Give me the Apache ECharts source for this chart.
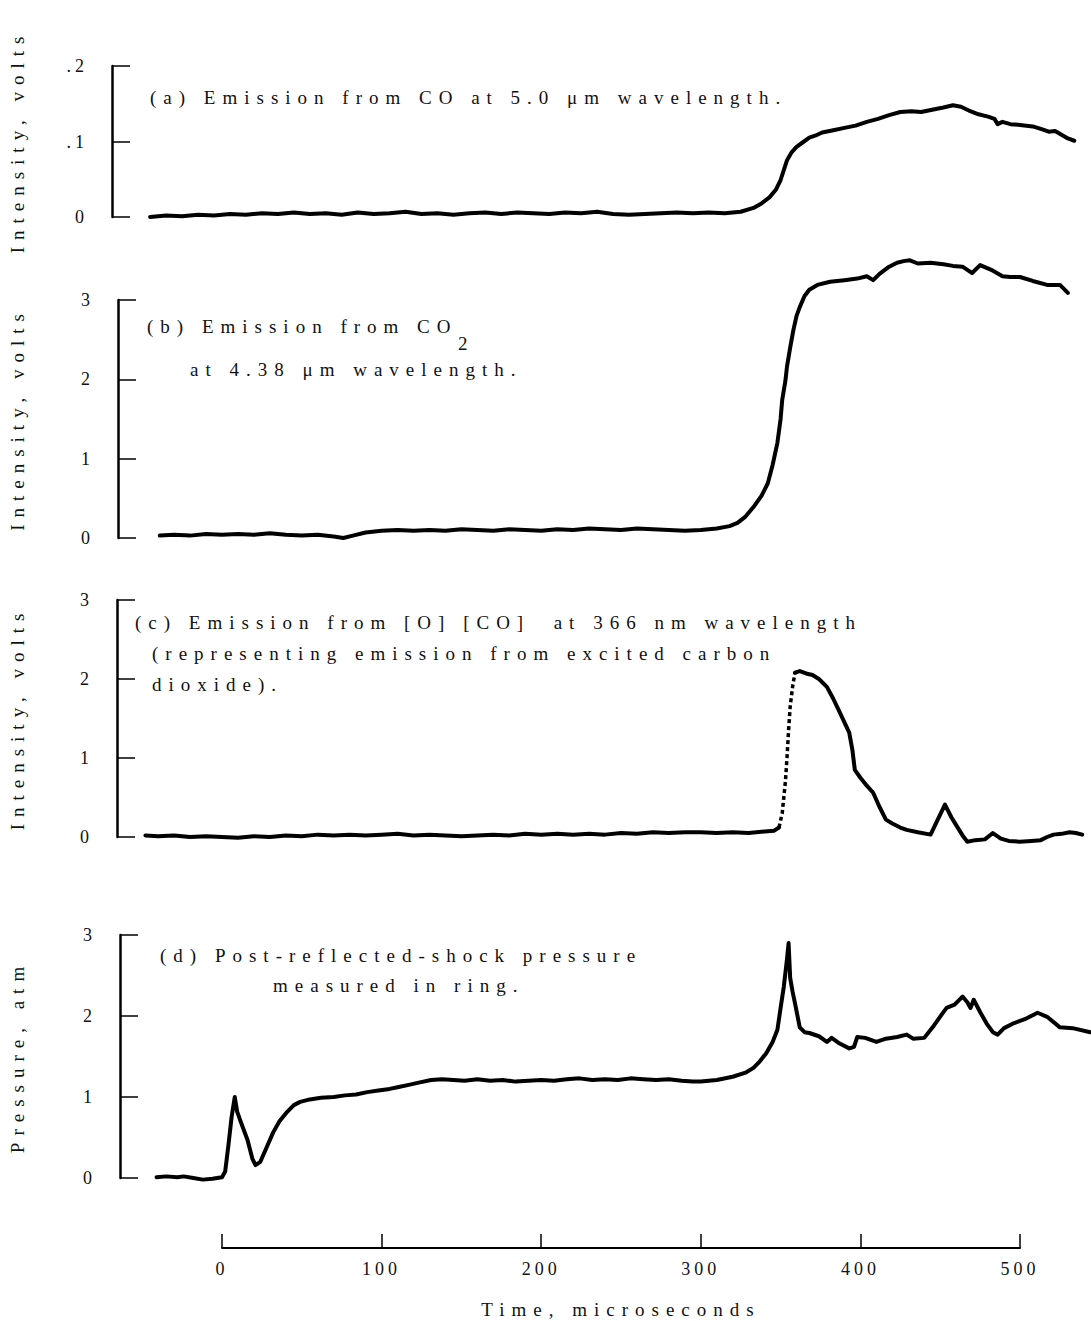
<!DOCTYPE html>
<html lang="en">
<head>
    <meta charset="UTF-8">
    <title>Shock tube emission and pressure traces</title>
    <script src="https://cdn.jsdelivr.net/npm/echarts@6/dist/echarts.min.js"></script>
    <style>
        html, body { margin: 0; padding: 0; background: #fff; }
        #main { width: 1091px; height: 1321px; }
    </style>
</head>
<body>
<div id="main"></div>
<script type="text/javascript">
    // (a) CO emission at 5.0 um -- time in microseconds, intensity in volts
    var timeA = [-45,-35,-25,-15,-5,5,15,25,35,45,55,65,75,85,95,105,115,125,135,145,155,165,175,185,195,205,215,225,235,245,255,265,275,285,295,305,315,325,
        333,338,343,347,350,352,354,357,360,364,368,372,376,
        383,390,397,404,411,418,425,432,438,445,452,458,463,468,474,480,484,486,489,494,500,508,514,518,522,526,530,534];
    var intensityA = [0.000,0.002,0.001,0.003,0.002,0.004,0.003,0.005,0.004,0.006,0.004,0.005,0.003,0.006,0.004,0.005,0.007,0.004,0.005,0.003,
        0.005,0.006,0.004,0.006,0.005,0.004,0.006,0.005,0.007,0.004,0.003,0.004,0.005,0.006,0.005,0.006,0.005,0.007,
        0.012,0.018,0.026,0.036,0.049,0.062,0.075,0.086,0.093,0.099,0.105,0.108,0.112,
        0.115,0.118,0.121,0.126,0.130,0.135,0.139,0.140,0.139,0.142,0.145,0.148,0.146,0.141,0.136,0.133,0.130,0.123,0.126,0.123,0.122,0.120,0.116,0.113,0.114,0.109,0.104,0.101];

    // (b) CO2 emission at 4.38 um
    var timeB = [-39,-30,-20,-10,0,10,20,30,40,50,60,70,76,82,90,
        100,110,120,130,140,150,160,170,180,190,200,210,220,230,240,250,260,270,280,290,300,310,
        318,323,328,333,338,342,345,348,350,351,353,354,356,358,360,362,365,368,373,
        381,390,398,404,408,412,418,423,427,431,436,444,452,458,464,467,470,475,482,489,494,500,508,517,525,530];
    var intensityB = [0.03,0.04,0.03,0.05,0.04,0.05,0.04,0.06,0.04,0.03,0.04,0.02,0.00,0.03,0.07,
        0.09,0.10,0.09,0.10,0.09,0.11,0.10,0.09,0.11,0.10,0.09,0.11,0.10,0.12,0.11,0.10,0.12,0.11,0.10,0.09,0.10,0.12,
        0.15,0.19,0.27,0.39,0.53,0.69,0.92,1.20,1.50,1.74,1.98,2.16,2.40,2.62,2.80,2.91,3.05,3.13,3.19,
        3.23,3.25,3.27,3.30,3.25,3.33,3.42,3.47,3.49,3.50,3.46,3.47,3.45,3.43,3.42,3.38,3.34,3.44,3.38,3.30,3.29,3.29,3.24,3.19,3.19,3.09];

    // (c) [O][CO] emission at 366 nm
    var timeC = [-48,-40,-30,-20,-10,0,10,20,30,40,50,60,70,80,90,100,110,120,130,140,150,160,170,180,190,200,210,220,230,240,250,260,270,280,290,300,310,320,330,340,
        346,349,351,353,354,355,356,357.5,359,
        362,366,370,374,379,383,387,390,393,395,396.5,
        400,404,408,412,416,420,425,429,436,444,
        448,453,457,460,464,467,472,478,483,488,
        493,500,507,513,517,521,526,531,535,539];
    var intensityC = [0.02,0.01,0.02,0.00,0.01,0.00,-0.01,0.01,0.00,0.02,0.01,0.03,0.02,0.03,0.02,0.03,0.04,0.02,0.03,0.02,
        0.01,0.02,0.03,0.02,0.04,0.03,0.04,0.03,0.04,0.03,0.05,0.04,0.06,0.05,0.06,0.06,0.05,0.06,0.05,0.07,
        0.08,0.12,0.30,0.70,1.00,1.35,1.65,1.90,2.08,
        2.10,2.07,2.05,2.00,1.90,1.75,1.58,1.45,1.32,1.10,0.85,
        0.75,0.65,0.56,0.38,0.22,0.17,0.12,0.09,0.06,0.03,
        0.20,0.41,0.25,0.15,0.02,-0.06,-0.04,-0.03,0.05,-0.02,
        -0.05,-0.06,-0.05,-0.04,0.00,0.03,0.04,0.06,0.05,0.03];

    // (d) post-reflected-shock pressure, atm
    var timeD = [-41,-35,-28,-24,-18,-12,-6,0,2,4,6,8,9.5,12,16,19,21,24,28,32,36,41,45,49,55,62,70,77,
        84,91,98,105,110,117,124,131,138,145,152,160,168,176,184,192,200,208,216,224,
        232,240,248,256,264,272,280,288,295,300,310,320,328,333,337,341,345,348,350,352,
        354,355,356,357.5,359,362,365,368,374,379,382,387,393,396,398,403,410,416,423,429,
        433,440,446,451,454,459,464,467,469,471,475,479,483,486,490,496,503,511,517,525,533,544];
    var pressureD = [0.01,0.02,0.01,0.02,0.00,-0.02,-0.01,0.01,0.08,0.40,0.75,1.00,0.82,0.68,0.47,0.24,0.16,0.20,0.38,0.56,0.70,0.82,0.90,0.94,0.97,0.99,1.00,1.02,
        1.03,1.06,1.08,1.10,1.12,1.15,1.18,1.21,1.22,1.21,1.20,1.22,1.20,1.21,1.19,1.20,1.21,1.20,1.22,1.23,
        1.21,1.22,1.21,1.23,1.22,1.21,1.22,1.20,1.19,1.19,1.21,1.25,1.30,1.36,1.44,1.54,1.68,1.83,2.10,2.36,
        2.70,2.90,2.47,2.30,2.16,1.86,1.80,1.79,1.75,1.68,1.73,1.66,1.60,1.62,1.74,1.73,1.68,1.72,1.74,1.77,
        1.72,1.73,1.88,2.02,2.10,2.14,2.24,2.17,2.10,2.20,2.05,1.91,1.80,1.77,1.85,1.91,1.96,2.04,1.99,1.86,1.85,1.80];

    var FONT = '"Liberation Serif", "DejaVu Serif", serif';
    var INK = '#111';

    // shared time scale: 0 us sits at x=222, 500 us at x=1020
    var T0_PX = 222, T500_PX = 1020, RIGHT_PX = 1091;
    var pxPerUs = (T500_PX - T0_PX) / 500;
    function tAtPx(px) { return (px - T0_PX) / pxPerUs; }

    var panels = [
        { left: 112, top: 66,  height: 151 },
        { left: 118, top: 300, height: 238 },
        { left: 117, top: 600, height: 237 },
        { left: 120, top: 935, height: 243 }
    ];

    function zip(ts, vs) {
        return ts.map(function (t, i) { return [t, vs[i]]; });
    }

    var grids = panels.map(function (p) {
        return { left: p.left, top: p.top, height: p.height, width: RIGHT_PX - p.left };
    });
    grids.push({ left: T0_PX, top: 1231, height: 17, width: T500_PX - T0_PX });

    var xAxes = panels.map(function (p, i) {
        return { gridIndex: i, type: 'value', min: tAtPx(p.left), max: tAtPx(RIGHT_PX), show: false };
    });
    xAxes.push({
        gridIndex: 4, type: 'value', min: 0, max: 500, interval: 100, position: 'bottom',
        name: 'Time, microseconds', nameLocation: 'middle', nameGap: 52,
        nameTextStyle: { fontFamily: FONT, fontSize: 19, color: INK },
        axisLine: { onZero: false, lineStyle: { color: '#000', width: 2 } },
        axisTick: { inside: true, length: 14, lineStyle: { color: '#000', width: 1.5 } },
        axisLabel: { margin: 12, fontFamily: FONT, fontSize: 18, color: INK },
        splitLine: { show: false }
    });

    function panelY(i, max, interval, name, fmt) {
        return {
            gridIndex: i, type: 'value', min: 0, max: max, interval: interval,
            name: name, nameLocation: 'middle', nameGap: panels[i].left - 27,
            nameTextStyle: { fontFamily: FONT, fontSize: 19, color: INK },
            axisLine: { show: true, onZero: false, lineStyle: { color: '#000', width: 2.5 } },
            axisTick: { show: true, inside: true, length: 18, lineStyle: { color: '#000', width: 1.5 } },
            axisLabel: { margin: 24, fontFamily: FONT, fontSize: 18, color: INK, formatter: fmt },
            splitLine: { show: false }
        };
    }
    var yAxes = [
        panelY(0, 0.2, 0.1, 'Intensity, volts', function (v) { return v === 0 ? '0' : String(v).replace('0.', '.'); }),
        panelY(1, 3, 1, 'Intensity, volts'),
        panelY(2, 3, 1, 'Intensity, volts'),
        panelY(3, 3, 1, 'Pressure, atm'),
        { gridIndex: 4, type: 'value', min: 0, max: 1, show: false }
    ];

    function trace(i, data, extra) {
        var s = {
            type: 'line', xAxisIndex: i, yAxisIndex: i, data: data,
            showSymbol: false, clip: false, silent: true,
            lineStyle: { color: '#000', width: 4, join: 'round', cap: 'round' }
        };
        return Object.assign(s, extra || {});
    }

    // panel (c): the fast rise was recorded as a broken (dotted) trace
    var cPairs = zip(timeC, intensityC);
    var cBefore = cPairs.filter(function (p) { return p[0] <= 349; });
    var cRise = cPairs.filter(function (p) { return p[0] >= 349 && p[0] <= 359; });
    var cAfter = cPairs.filter(function (p) { return p[0] >= 359; });

    var series = [
        trace(0, zip(timeA, intensityA)),
        trace(1, zip(timeB, intensityB)),
        trace(2, cBefore),
        trace(2, cRise, { lineStyle: { color: '#000', width: 3.5, type: [4, 3] } }),
        trace(2, cAfter),
        trace(3, zip(timeD, pressureD))
    ];

    function note(x, y, text) {
        return {
            type: 'text', x: x, y: y, silent: true,
            style: { text: text, fill: INK, fontFamily: FONT, fontSize: 19, verticalAlign: 'middle' }
        };
    }

    var option = {
        animation: false,
        backgroundColor: '#fff',
        grid: grids,
        xAxis: xAxes,
        yAxis: yAxes,
        series: series,
        graphic: [
            note(150, 97, '(a) Emission from CO at 5.0 μm wavelength.'),
            note(147, 326, '(b) Emission from CO'),
            note(458, 343, '2'),
            note(190, 369, 'at 4.38 μm wavelength.'),
            note(135, 622, '(c) Emission from [O] [CO]  at 366 nm wavelength'),
            note(152, 653, '(representing emission from excited carbon'),
            note(152, 684, 'dioxide).'),
            note(160, 955, '(d) Post-reflected-shock pressure'),
            note(273, 985, 'measured in ring.')
        ]
    };

    var chart = echarts.init(document.getElementById('main'), null, { renderer: 'svg' });
    chart.setOption(option);

    // typewriter look: spread the letters out like the original print
    function spaceLetters() {
        document.querySelectorAll('#main svg text').forEach(function (t) {
            var n = t.textContent.length;
            t.setAttribute('letter-spacing', n <= 3 ? '4' : '7');
        });
    }
    spaceLetters();
    chart.on('finished', spaceLetters);
</script>
</body>
</html>
